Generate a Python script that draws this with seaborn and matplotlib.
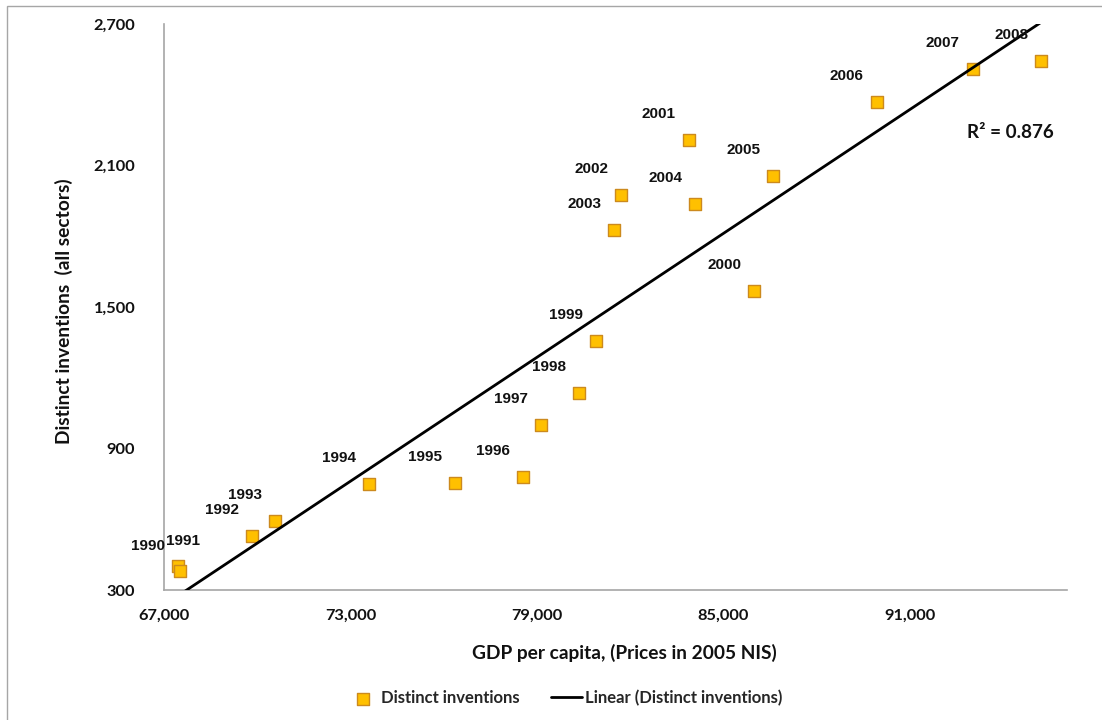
import numpy as np
import pandas as pd
import seaborn as sns
import matplotlib.pyplot as plt
from matplotlib.patches import Rectangle
from matplotlib.ticker import StrMethodFormatter

years = [1990, 1991, 1992, 1993, 1994, 1995, 1996, 1997, 1998, 1999,
         2000, 2001, 2002, 2003, 2004, 2005, 2006, 2007, 2008]
gdp_per_capita = [67448, 67502, 69831, 70562, 73600, 76360, 78560, 79120, 80364, 80892,
                  85991, 83888, 81717, 81482, 84101, 86613, 89943, 93035, 95235]
inventions = [403, 380, 529, 594, 750, 755, 779, 999, 1135, 1359,
              1567, 2211, 1976, 1827, 1937, 2055, 2370, 2512, 2543]

x_ticks = [67000, 73000, 79000, 85000, 91000]
y_ticks = [300, 900, 1500, 2100, 2700]

df = pd.DataFrame({"year": years, "gdp": gdp_per_capita, "inventions": inventions})

sns.set_style("white")
plt.rcParams["font.family"] = ["Lato", "DejaVu Sans"]

fig = plt.figure(figsize=(11.02, 7.2), dpi=100)
ax = fig.add_axes([0.1492, 0.1801, 0.8190, 0.7862])
ax.set_xlim(67000, 96070)
ax.set_ylim(300, 2700)

# trendline over the whole x range, drawn above the markers like Excel does
sns.regplot(data=df, x="gdp", y="inventions", ax=ax, scatter=False, ci=None,
            truncate=False, color="black", line_kws={"lw": 2, "zorder": 4})
trend_line = ax.lines[-1]
trend_line.set_label("Linear (Distinct inventions)")
sns.scatterplot(data=df, x="gdp", y="inventions", ax=ax, marker="s", s=85,
                color="#FFC000", edgecolor="#CC8A1E", linewidth=1, zorder=3,
                label="Distinct inventions")
pts = ax.collections[-1]
if ax.get_legend() is not None:
    ax.get_legend().remove()
ax.set_xlim(67000, 96070)
ax.set_ylim(300, 2700)

# year labels, mostly up-left of each point
for yr, gx, iv in zip(years, gdp_per_capita, inventions):
    off = (-30, 26)
    if yr == 1990:
        off = (-30, 20)
    elif yr == 1991:
        off = (3, 30)
    ax.annotate(str(yr), (gx, iv), xytext=off, textcoords="offset pixels",
                ha="center", va="center", fontsize=11, fontweight="bold",
                family="Liberation Sans", color="#111111", zorder=5)

ax.text(0.937, 0.808, "R² = 0.876", transform=ax.transAxes, ha="center", va="center",
        fontsize=13.6, fontweight="bold", color="#111111")

ax.set_xticks(x_ticks)
ax.set_yticks(y_ticks)
ax.xaxis.set_major_formatter(StrMethodFormatter("{x:,.0f}"))
ax.yaxis.set_major_formatter(StrMethodFormatter("{x:,.0f}"))
ax.tick_params(axis="both", direction="out", length=5, width=1, color="#A6A6A6",
               labelsize=11.8, labelcolor="#111111")
ax.tick_params(axis="x", pad=8)
ax.tick_params(axis="y", pad=16)
for lab in ax.get_xticklabels() + ax.get_yticklabels():
    lab.set_fontweight("bold")

for side in ["top", "right"]:
    ax.spines[side].set_visible(False)
for side in ["left", "bottom"]:
    ax.spines[side].set_color("#A6A6A6")
    ax.spines[side].set_linewidth(1.2)

ax.set_xlabel("GDP per capita, (Prices in 2005 NIS)", fontsize=13.8, fontweight="bold", color="#111111")
ax.set_ylabel("Distinct inventions  (all sectors)", fontsize=13.8, fontweight="bold", color="#111111")
ax.xaxis.set_label_coords(0.510, -0.095)
ax.yaxis.set_label_coords(-0.101, 0.493)

fig.legend([pts, trend_line], ["Distinct inventions", "Linear (Distinct inventions)"],
           loc="center", bbox_to_anchor=(565 / 1102, 1 - 698 / 720), ncol=2,
           frameon=False, prop={"weight": "bold", "size": 12},
           handlelength=1.85, handletextpad=0.15, columnspacing=1.9)

fig.add_artist(Rectangle((7 / 1102, -0.05), 1.1, 1 - 6 / 720 + 0.05,
                         transform=fig.transFigure, fill=False,
                         edgecolor="#A6A6A6", lw=1))

fig.savefig("out.png", dpi=100)
